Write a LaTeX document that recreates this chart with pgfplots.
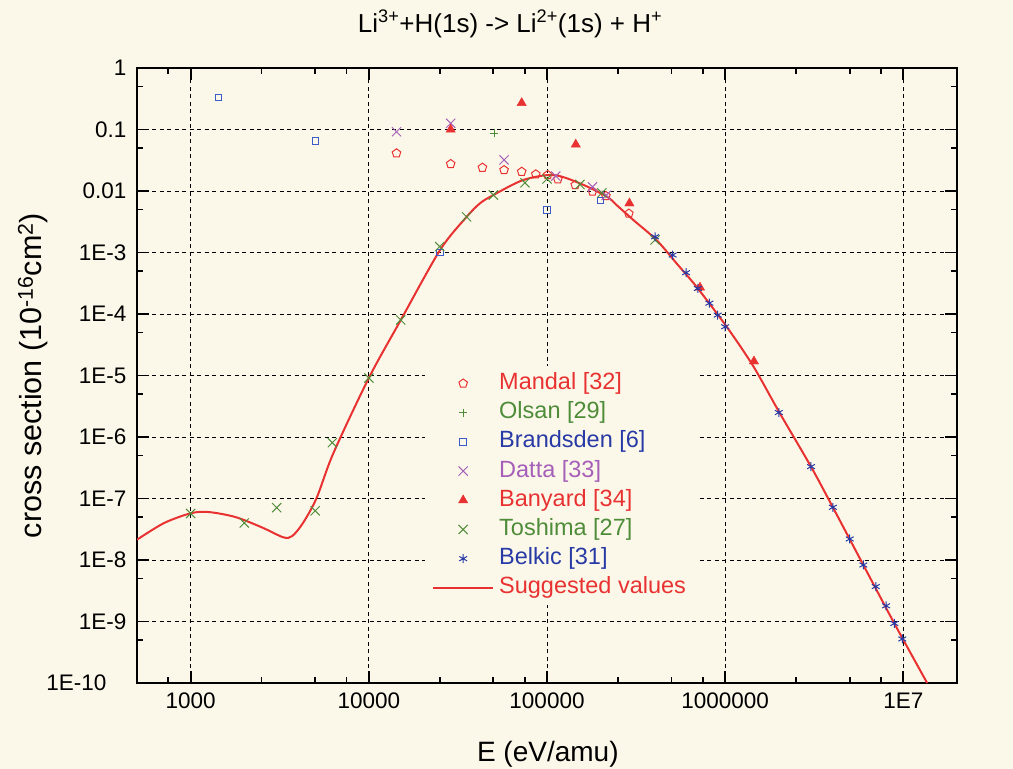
\documentclass[border=0pt]{standalone}
\usepackage{fontspec}
\setmainfont{Liberation Sans}
\usepackage{pgfplots}
\pgfplotsset{compat=1.18}
\usetikzlibrary{plotmarks}
\definecolor{cream}{RGB}{252,248,233}
\definecolor{cred}{RGB}{232,50,50}
\definecolor{cgreen}{RGB}{78,140,58}
\definecolor{cblue}{RGB}{40,58,165}
\definecolor{cblue2}{RGB}{60,90,200}
\definecolor{cpurple}{RGB}{165,95,185}
\begin{document}
\begin{tikzpicture}
\fill[cream] (-137pt,-86pt) rectangle (876pt,683pt);
\useasboundingbox (-137pt,-86pt) rectangle (876pt,683pt);
\begin{axis}[
  at={(0pt,0pt)}, anchor=south west,
  scale only axis, width=820pt, height=615pt,
  xmode=log, ymode=log,
  xmin=500, xmax=2e7, ymin=1e-10, ymax=1,
  xtick={1000,10000,100000,1000000,10000000},
  xticklabels={1000,10000,100000,1000000,1E7},
  minor xtick={750,2500,5000,7500,25000,50000,75000,250000,500000,750000,2500000,5000000,7500000},
  ytick={1e-10,1e-9,1e-8,1e-7,1e-6,1e-5,1e-4,1e-3,1e-2,1e-1,1},
  yticklabels={1E-10\hspace*{20pt},1E-9,1E-8,1E-7,1E-6,1E-5,1E-4,1E-3,0.01,0.1,1},
  minor ytick={5e-10,5e-9,5e-8,5e-7,5e-6,5e-5,5e-4,5e-3,5e-2,0.5},
  /pgf/number format/assume math mode=true,
  tick label style={font=\fontsize{22.5}{26}\selectfont},
  yticklabel style={xshift=-7pt},
  xticklabel style={yshift=-6pt},
  tick align=inside,
  major tick length=12.5pt, minor tick length=6.5pt,
  every tick/.style={black, line width=1.8pt},
  axis line style={line width=2.4pt},
  grid=major,
  major grid style={black, line width=0.9pt, dash pattern=on 4pt off 3.5pt},
  title={Li\textsuperscript{3+}+H(1s) -> Li\textsuperscript{2+}(1s) + H\textsuperscript{+}},
  title style={at={(axis description cs:0.455,1)}, anchor=base, yshift=30pt, font=\fontsize{26}{30}\selectfont},
  xlabel={E (eV/amu)},
  xlabel style={at={(axis description cs:0.501,0)}, anchor=base, yshift=-78.7pt, font=\fontsize{28}{33}\selectfont},
  ylabel={cross section (10\textsuperscript{-16}cm\textsuperscript{2})},
  ylabel style={at={(axis description cs:-0.1159,0.5)}, anchor=base, font=\fontsize{30.5}{35}\selectfont},
  legend image code/.code={\draw[mark repeat=2,mark phase=2,#1] plot coordinates {(0pt,0pt) (30pt,0pt) (60pt,0pt)};},
  legend cell align=left,
  legend style={at={(axis description cs:0.3512,0.515)}, anchor=north west, draw=none, fill=cream,
    font=\fontsize{23.5}{28}\selectfont, row sep=7.2pt, inner xsep=7pt, inner ysep=6pt,
    nodes={inner xsep=5pt, inner ysep=0pt, text height=17pt, text depth=5pt}},
]
% Mandal
\addplot[only marks, mark=pentagon, mark size=4.5pt, cred, mark options={line width=1pt}] coordinates {
(14300,0.041) (28800,0.0275) (43400,0.024) (57400,0.0219) (72100,0.0206) (86500,0.0187)
(100900,0.0182) (115000,0.0155) (144000,0.0125) (180000,0.0098) (214000,0.0083) (288000,0.0043)};
\addlegendentry{\textcolor{cred}{Mandal [32]}}
% Olsan
\addplot[only marks, mark=+, mark size=4pt, cgreen, mark options={line width=1pt}] coordinates {
(50600,0.087)};
\addlegendentry{\textcolor{cgreen}{Olsan [29]}}
% Brandsden
\addplot[only marks, mark=square, mark size=3.3pt, cblue2, mark options={line width=1pt}] coordinates {
(1430,0.33) (5020,0.065) (25000,1.0e-3) (100000,4.9e-3) (200000,7.0e-3)};
\addlegendentry{\textcolor{cblue}{Brandsden [6]}}
% Datta
\addplot[only marks, mark=x, mark size=6.5pt, cpurple, mark options={line width=1pt}] coordinates {
(14300,0.092) (28800,0.126) (57400,0.032) (112000,0.0175) (180000,0.0117) (215000,0.0085)};
\addlegendentry{\textcolor{cpurple}{Datta [33]}}
% Banyard
\addplot[only marks, mark=triangle*, mark size=5.4pt, cred] coordinates {
(28800,0.10) (72100,0.27) (145000,0.057) (290000,0.0063) (722000,2.7e-4) (1450000,1.7e-5)};
\addlegendentry{\textcolor{cred}{Banyard [34]}}
% Toshima
\addplot[only marks, mark=x, mark size=6.5pt, cgreen, mark options={line width=1pt}] coordinates {
(1000,5.7e-8) (2000,4.0e-8) (3040,7.1e-8) (5000,6.3e-8) (6240,8.1e-7) (10000,9.1e-6)
(15100,8.0e-5) (25000,1.25e-3) (35400,3.8e-3) (50000,8.6e-3) (75200,0.0136) (100000,0.0157)
(153000,0.0128) (203000,9.3e-3) (404000,1.6e-3)};
\addlegendentry{\textcolor{cgreen}{Toshima [27]}}
% Belkic
\addplot[only marks, mark=asterisk, mark size=4.5pt, cblue, mark options={line width=1pt}] coordinates {
(404000,1.8e-3) (507000,9.1e-4) (603000,4.7e-4) (702000,2.6e-4) (815000,1.5e-4) (908000,9.6e-5)
(1.0e6,6.2e-5) (2.0e6,2.5e-6) (3.03e6,3.3e-7) (4.02e6,7.2e-8) (5.0e6,2.2e-8) (5.96e6,8.3e-9)
(7.0e6,3.7e-9) (8.0e6,1.8e-9) (8.9e6,9.3e-10) (9.86e6,5.2e-10)};
\addlegendentry{\textcolor{cblue}{Belkic [31]}}
% Suggested values
\addplot[cred, line width=2pt, smooth, no markers] coordinates {
(500,2.14e-8) (708,3.98e-8) (1000,5.75e-8) (1259,6.03e-8) (1778,5.01e-8) (2512,3.39e-8)
(3311,2.34e-8) (3715,2.45e-8) (4266,3.98e-8) (5093,1.02e-7) (6310,5.37e-7) (10000,9.12e-6)
(15100,7.94e-5) (25119,1.10e-3) (35400,3.80e-3) (42073,6.31e-3) (50003,8.61e-3) (73621,1.51e-2)
(108393,1.82e-2) (153109,1.33e-2) (216272,8.13e-3) (246000,5.89e-3) (304800,3.39e-3)
(413000,1.58e-3) (534600,6.61e-4) (691800,2.75e-4) (1.021e6,6.17e-5) (1.439e6,1.41e-5)
(2.0e6,2.6e-6) (3.03e6,3.3e-7) (4.02e6,7.2e-8) (5.96e6,8.3e-9) (8.9e6,9.3e-10)
(1.36e7,1.0e-10)};
\addlegendentry{\textcolor{cred}{Suggested values}}
\end{axis}
\end{tikzpicture}
\end{document}
